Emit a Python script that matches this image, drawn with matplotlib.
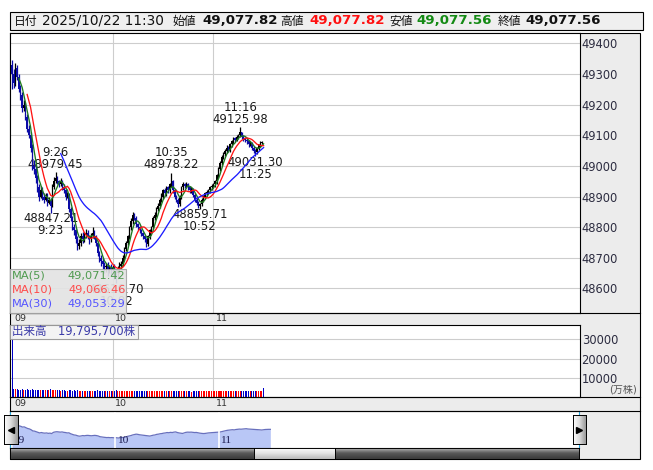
import matplotlib
matplotlib.use('Agg')
import matplotlib.pyplot as plt
import matplotlib.patches as mpatches
import matplotlib.transforms as mtransforms
from matplotlib.lines import Line2D
from matplotlib.colors import LinearSegmentedColormap
import numpy as np
import pandas as pd

plt.rcParams['font.family'] = ['DejaVu Sans', 'Noto Sans CJK JP']

# ---------------- data ----------------
minutes = list(range(151))   # minutes after 09:00, 1-minute candles up to 11:30

opens = [
    49330, 49300, 49270, 49320, 49290, 49250, 49230, 49190, 49200, 49160,
    49120, 49100, 49060, 49000, 48990, 48960, 48930, 48900, 48920, 48900,
    48890, 48900, 48880, 48890, 48870, 48930, 48950, 48960, 48950, 48940,
    48950, 48930, 48920, 48900, 48905, 48860, 48830, 48800, 48790, 48760,
    48740, 48750, 48770, 48760, 48775, 48780, 48770, 48760, 48770, 48780,
    48770, 48750, 48715, 48700, 48690, 48680, 48670, 48675, 48665, 48670,
    48660, 48670, 48655, 48650, 48665, 48675, 48680, 48700, 48730, 48750,
    48770, 48800, 48820, 48840, 48830, 48810, 48800, 48790, 48780, 48770,
    48760, 48745, 48770, 48790, 48800, 48830, 48840, 48860, 48870, 48890,
    48900, 48920, 48910, 48930, 48920, 48940, 48950, 48920, 48900, 48890,
    48875, 48900, 48930, 48940, 48935, 48940, 48930, 48920, 48925, 48905,
    48890, 48880, 48870, 48875, 48890, 48900, 48910, 48915, 48920, 48930,
    48935, 48940, 48950, 48970, 48990, 49010, 49030, 49040, 49050, 49060,
    49050, 49070, 49080, 49090, 49085, 49095, 49100, 49110, 49095, 49090,
    49085, 49080, 49070, 49075, 49060, 49050, 49045, 49060, 49070, 49075,
    49077.82]

highs = [
    49345, 49315, 49335, 49330, 49300, 49265, 49240, 49215, 49210, 49170,
    49135, 49110, 49070, 49020, 49000, 48970, 48940, 48935, 48930, 48910,
    48910, 48910, 48900, 48895, 48940, 48965, 48979.45, 48968, 48955, 48960,
    48955, 48940, 48925, 48915, 48910, 48865, 48835, 48810, 48795, 48770,
    48760, 48780, 48785, 48785, 48795, 48790, 48775, 48780, 48800, 48790,
    48775, 48755, 48722, 48708, 48698, 48688, 48682, 48685, 48678, 48680,
    48678, 48680, 48662, 48672, 48685, 48690, 48708, 48735, 48755, 48775,
    48805, 48830, 48850, 48845, 48835, 48815, 48805, 48795, 48785, 48775,
    48765, 48775, 48795, 48805, 48835, 48850, 48865, 48878, 48895, 48910,
    48925, 48928, 48935, 48935, 48945, 48978.22, 48955, 48925, 48905, 48895,
    48905, 48935, 48948, 48945, 48948, 48945, 48935, 48930, 48928, 48910,
    48895, 48885, 48880, 48895, 48905, 48915, 48920, 48925, 48935, 48940,
    48945, 48955, 48975, 48995, 49015, 49035, 49045, 49055, 49068, 49065,
    49075, 49085, 49095, 49095, 49100, 49105, 49125.98, 49112, 49100, 49095,
    49090, 49085, 49080, 49078, 49065, 49055, 49063, 49073, 49080, 49082,
    49077.82]

lows = [
    49250, 49255, 49262, 49280, 49240, 49215, 49175, 49180, 49150, 49110,
    49090, 49045, 48985, 48975, 48945, 48915, 48885, 48895, 48890, 48880,
    48885, 48870, 48875, 48847.21, 48865, 48925, 48945, 48940, 48930, 48935,
    48920, 48910, 48890, 48895, 48850, 48820, 48790, 48775, 48750, 48725,
    48730, 48740, 48750, 48752, 48765, 48760, 48745, 48752, 48765, 48762,
    48740, 48705, 48685, 48672, 48660, 48650, 48655, 48640, 48652, 48640,
    48645, 48632, 48616.70, 48630, 48650, 48662, 48672, 48690, 48722, 48742,
    48762, 48792, 48812, 48822, 48802, 48792, 48782, 48772, 48762, 48752,
    48736, 48740, 48762, 48782, 48795, 48822, 48832, 48852, 48862, 48882,
    48892, 48902, 48902, 48912, 48912, 48932, 48912, 48892, 48882, 48866,
    48870, 48892, 48922, 48928, 48928, 48922, 48912, 48912, 48898, 48882,
    48872, 48862, 48859.71, 48868, 48882, 48892, 48902, 48908, 48912, 48922,
    48928, 48932, 48942, 48962, 48982, 49002, 49022, 49032, 49042, 49045,
    49045, 49062, 49072, 49078, 49080, 49088, 49095, 49088, 49082, 49078,
    49072, 49062, 49065, 49052, 49042, 49031.30, 49040, 49052, 49062, 49070,
    49077.56]

closes = [
    49300, 49270, 49320, 49290, 49250, 49230, 49190, 49200, 49160, 49120,
    49100, 49060, 49000, 48990, 48960, 48930, 48900, 48920, 48900, 48890,
    48900, 48880, 48890, 48870, 48930, 48950, 48960, 48950, 48940, 48950,
    48930, 48920, 48900, 48905, 48860, 48830, 48800, 48790, 48760, 48740,
    48750, 48770, 48760, 48775, 48780, 48770, 48760, 48770, 48780, 48770,
    48750, 48715, 48700, 48690, 48680, 48670, 48675, 48665, 48670, 48660,
    48670, 48655, 48650, 48665, 48675, 48680, 48700, 48730, 48750, 48770,
    48800, 48820, 48840, 48830, 48810, 48800, 48790, 48780, 48770, 48760,
    48745, 48770, 48790, 48800, 48830, 48840, 48860, 48870, 48890, 48900,
    48920, 48910, 48930, 48920, 48940, 48950, 48920, 48900, 48890, 48875,
    48900, 48930, 48940, 48935, 48940, 48930, 48920, 48925, 48905, 48890,
    48880, 48870, 48875, 48890, 48900, 48910, 48915, 48920, 48930, 48935,
    48940, 48950, 48970, 48990, 49010, 49030, 49040, 49050, 49060, 49050,
    49070, 49080, 49090, 49085, 49095, 49100, 49110, 49095, 49090, 49085,
    49080, 49070, 49075, 49060, 49050, 49045, 49060, 49070, 49075, 49078,
    49077.56]

volumes = [  # 万株
    60000, 4300, 4100, 4200, 3900, 4000, 4200, 3800, 4000, 4100,
    3900, 4000, 4200, 3800, 3900, 4000, 3700, 3900, 3800, 4000,
    3700, 3800, 3600, 4100, 3900, 3700, 3800, 3600, 3700, 3500,
    3600, 3700, 3500, 3400, 3800, 3600, 3500, 3700, 3400, 3600,
    3500, 3400, 3300, 3500, 3400, 3300, 3500, 3400, 3200, 3300,
    3400, 3600, 3500, 3300, 3400, 3500, 3300, 3400, 3200, 3300,
    3400, 3300, 3600, 3300, 3200, 3300, 3400, 3500, 3300, 3400,
    3500, 3400, 3300, 3400, 3200, 3300, 3200, 3100, 3300, 3200,
    3300, 3400, 3300, 3200, 3400, 3300, 3400, 3300, 3200, 3300,
    3400, 3200, 3300, 3100, 3300, 3500, 3300, 3200, 3300, 3100,
    3200, 3300, 3100, 3200, 3300, 3100, 3200, 3000, 3200, 3100,
    3200, 3300, 3400, 3200, 3100, 3200, 3300, 3100, 3200, 3300,
    3200, 3300, 3400, 3300, 3500, 3400, 3300, 3200, 3300, 3400,
    3200, 3300, 3400, 3300, 3200, 3300, 3500, 3400, 3300, 3200,
    3100, 3200, 3100, 3300, 3200, 3400, 3200, 3100, 3200, 3300,
    4800]

price_ticks = [48600, 48700, 48800, 48900, 49000, 49100, 49200, 49300, 49400]
vol_ticks = [10000, 20000, 30000]
hour_ticks = [0, 60, 120]
hour_labels = ['09', '10', '11']

ext_minutes = [23, 26, 62, 95, 112, 136, 145]
ext_prices = [48847.21, 48979.45, 48616.70, 48978.22, 48859.71, 49125.98, 49031.30]
ext_times = ['9:23', '9:26', '10:02', '10:35', '10:52', '11:16', '11:25']
ext_kinds = ['low', 'high', 'low', 'high', 'low', 'high', 'low']

ma_periods = [5, 10, 30]
ma_labels = ['MA(5)', 'MA(10)', 'MA(30)']
ma_value_texts = ['49,071.42', '49,066.46', '49,053.29']

header_parts = [  # (text, left x px, size, weight, color)
    ('日付', 14, 8.5, 'normal', '#111111'),
    ('2025/10/22 11:30', 41.5, 9.8, 'normal', '#111111'),
    ('始値', 172.5, 8.5, 'normal', '#111111'),
    ('49,077.82', 202, 9.6, 'bold', '#111111'),
    ('高値', 280.5, 8.5, 'normal', '#111111'),
    ('49,077.82', 309, 9.6, 'bold', '#ff1010'),
    ('安値', 389.5, 8.5, 'normal', '#111111'),
    ('49,077.56', 416.5, 9.6, 'bold', '#138a13'),
    ('終値', 497.5, 8.5, 'normal', '#111111'),
    ('49,077.56', 525, 9.6, 'bold', '#111111'),
]
volume_title = '出来高　19,795,700株'
volume_unit = '(万株)'

# ---------------- styles ----------------
W, H = 653, 470
UP_C, DOWN_C = '#000000', '#0b0ba6'
MA_COLORS = ['#1f7a1f', '#ff1414', '#1c1cff']
MA_TEXT_COLORS = ['#4f9a4f', '#ff4a4a', '#5555ff']
GRID_C = '#cdcdcd'
PANEL_BG = '#ececec'

fig = plt.figure(figsize=(W / 100, H / 100), dpi=100)
fig.patch.set_facecolor('white')


def frac_rect(x0, y0, x1, y1):
    return [x0 / W, 1 - y1 / H, (x1 - x0) / W, (y1 - y0) / H]


def add_rect(x0, y0, x1, y1, fc, ec='none', lw=0.8, z=-5, alpha=1.0):
    r = mpatches.Rectangle((x0 / W, 1 - y1 / H), (x1 - x0) / W, (y1 - y0) / H,
                           transform=fig.transFigure, facecolor=fc, edgecolor=ec,
                           lw=lw, zorder=z, alpha=alpha)
    fig.add_artist(r)
    return r


def hline(x0, x1, y, color='black', lw=0.8, z=10):
    fig.add_artist(Line2D([x0 / W, x1 / W], [1 - y / H, 1 - y / H],
                          transform=fig.transFigure, color=color, lw=lw, zorder=z))


def ftext(x, y, s, **kw):
    return fig.text(x / W, 1 - y / H, s, **kw)


# background frames
add_rect(10, 12, 643, 30, '#efefef', 'black')
add_rect(10, 33, 640, 459.3, PANEL_BG, 'black')

for s, x, size, weight, color in header_parts:
    ftext(x, 21, s, ha='left', va='center', fontsize=size, fontweight=weight,
          color=color, zorder=30)

# ---------------- price panel ----------------
XMIN, XMAX = -1.0, 338.4
ax = fig.add_axes(frac_rect(10.4, 33, 579.5, 312.7))
ax.set_facecolor('white')
ax.set_xlim(XMIN, XMAX)
ax.set_ylim(48521, 49433.6)
for t in price_ticks:
    ax.axhline(t, color=GRID_C, lw=0.8, zorder=1)
for m in hour_ticks[1:]:
    ax.axvline(m, color=GRID_C, lw=0.8, zorder=1)

ccol = [UP_C if c >= o else DOWN_C for o, c in zip(opens, closes)]
ax.vlines(minutes, lows, highs, colors=ccol, lw=0.9, zorder=3)
ax.bar(minutes, [max(abs(c - o), 2.0) for o, c in zip(opens, closes)],
       bottom=[min(o, c) for o, c in zip(opens, closes)], width=0.8,
       color=ccol, linewidth=0, zorder=3)

cs = pd.Series(closes)
for p, col in zip(ma_periods, MA_COLORS):
    ax.plot(minutes, cs.rolling(p).mean(), color=col, lw=0.95, zorder=4)

for m, p, tt, kind in zip(ext_minutes, ext_prices, ext_times, ext_kinds):
    if kind == 'high':
        o1, o2 = 8, 20
    else:
        o1, o2 = -6, -18
    ax.annotate(f'{p:.2f}', (m, p), xytext=(0, o1), textcoords='offset pixels',
                ha='center', va='center', fontsize=8.4, color='#1a1a1a', zorder=2)
    ax.annotate(tt, (m, p), xytext=(0, o2), textcoords='offset pixels',
                ha='center', va='center', fontsize=8.4, color='#1a1a1a', zorder=2)

ax.yaxis.tick_right()
ax.set_yticks(price_ticks)
ax.set_yticklabels([str(t) for t in price_ticks])
ax.tick_params(axis='y', length=0, pad=1.5, labelsize=8.3, labelcolor='#2c2c40')
ax.set_xticks([])
for sp in ax.spines.values():
    sp.set_color('black')
    sp.set_linewidth(0.8)

# time band under price panel
bt = mtransforms.blended_transform_factory(ax.transData, fig.transFigure)
for m, lab in zip(hour_ticks, hour_labels):
    ax.text(m + 1.6, 1 - 318.6 / H, lab, transform=bt, ha='left', va='center',
            fontsize=6.8, color='#333333', clip_on=False)
hline(10, 640, 312.7)

# MA legend box
add_rect(10.4, 269.3, 125.5, 312.7, '#e3e3e3', '#a6a6a6', lw=0.8, z=20, alpha=0.92)
for i, (lab, val, tc) in enumerate(zip(ma_labels, ma_value_texts, MA_TEXT_COLORS)):
    yy = 276 + i * 14
    ftext(12, yy, lab, ha='left', va='center', fontsize=8.2, color=tc, zorder=21)
    ftext(125.5, yy, val, ha='right', va='center', fontsize=8.2, color=tc, zorder=21)

# ---------------- volume panel ----------------
axv = fig.add_axes(frac_rect(10.4, 325, 579.5, 397.3))
axv.set_facecolor('white')
axv.set_xlim(XMIN, XMAX)
axv.set_ylim(0, 37500)
for t in vol_ticks:
    axv.axhline(t, color=GRID_C, lw=0.8, zorder=1)
for m in hour_ticks[1:]:
    axv.axvline(m, color=GRID_C, lw=0.8, zorder=1)
vcol = ['#ff0000' if c >= o else '#0000c8' for o, c in zip(opens, closes)]
axv.bar(minutes, volumes, width=0.6, color=vcol, linewidth=0, zorder=3)
axv.yaxis.tick_right()
axv.set_yticks(vol_ticks)
axv.set_yticklabels([str(t) for t in vol_ticks])
axv.tick_params(axis='y', length=0, pad=1.5, labelsize=8.3, labelcolor='#2c2c40')
axv.set_xticks([])
for sp in axv.spines.values():
    sp.set_color('black')
    sp.set_linewidth(0.8)
ftext(637, 390, volume_unit, ha='right', va='center', fontsize=7.2,
      color='#555555', zorder=30)

add_rect(10.4, 325, 137.5, 339, '#f4f4f4', '#9a9a9a', lw=0.8, z=20, alpha=0.95)
ftext(12, 332, volume_title, ha='left', va='center', fontsize=8.3,
      color='#3a3aa8', zorder=21)

btv = mtransforms.blended_transform_factory(axv.transData, fig.transFigure)
for m, lab in zip(hour_ticks, hour_labels):
    axv.text(m + 1.6, 1 - 404 / H, lab, transform=btv, ha='left', va='center',
             fontsize=6.8, color='#333333', clip_on=False)
hline(10, 640, 397.3)
hline(10, 640, 410.7)

# ---------------- navigator ----------------
axn = fig.add_axes(frac_rect(10.4, 410.7, 579, 447.7))
axn.set_facecolor('white')
axn.set_xlim(-1.0, 329.3)
axn.set_ylim(48170, 50000)
axn.fill_between(minutes, closes, 48170, color='#b9c7f6', lw=0, zorder=2)
axn.plot(minutes, closes, color='#6870bd', lw=0.9, zorder=3)
for m in hour_ticks[1:]:
    axn.axvline(m, color='white', lw=1.2, zorder=4)
for m, lab in zip(hour_ticks, hour_labels):
    axn.text(m + 0.8, 0.2, lab, transform=mtransforms.blended_transform_factory(
        axn.transData, axn.transAxes), ha='left', va='center',
        fontsize=8.2, family='Liberation Serif', color='#1a1a50', zorder=5)
axn.set_xticks([])
axn.set_yticks([])
for k, sp in axn.spines.items():
    sp.set_linewidth(0.8)
    sp.set_color('#2aa8e0' if k in ('left', 'right') else 'black')


def grad_axes(rect_px, colors, vertical=True, border='black'):
    a = fig.add_axes(frac_rect(*rect_px))
    cmap = LinearSegmentedColormap.from_list('g', colors)
    g = np.linspace(0, 1, 64)
    arr = g.reshape(-1, 1) if vertical else g.reshape(1, -1)
    a.imshow(arr, aspect='auto', cmap=cmap, extent=(0, 1, 0, 1), origin='upper')
    a.set_xlim(0, 1)
    a.set_ylim(0, 1)
    a.set_xticks([])
    a.set_yticks([])
    for sp in a.spines.values():
        sp.set_color(border)
        sp.set_linewidth(0.7)
    return a


# scrollbar
grad_axes((10.4, 447.7, 579, 459.3), ['#c8c8c8', '#5a5a5a', '#3a3a3a'])
grad_axes((254, 447.7, 335, 459.3), ['#ffffff', '#e4e4e4', '#b8b8b8'])
# buttons
bl = grad_axes((4, 415, 17.5, 444), ['#ffffff', '#dcdcdc', '#9a9a9a'], vertical=False)
bl.plot(0.5, 0.5, marker='<', color='black', ms=4.2)
br = grad_axes((572.6, 415, 585.5, 444), ['#ffffff', '#dcdcdc', '#9a9a9a'], vertical=False)
br.plot(0.5, 0.5, marker='>', color='black', ms=4.2)

fig.savefig('out.png', dpi=100)
